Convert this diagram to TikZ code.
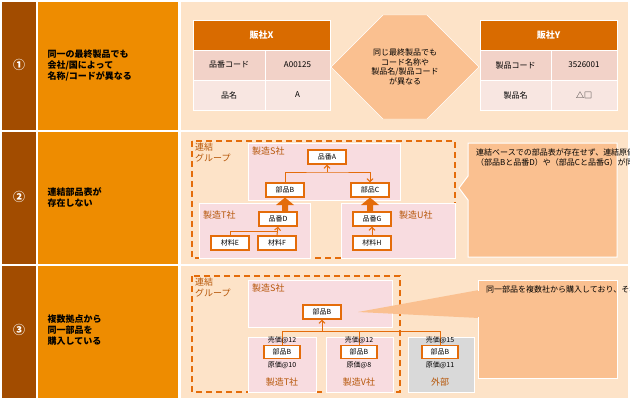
\documentclass[tikz,border=0pt]{standalone}
\usepackage{fontspec}
\setmainfont{Noto Sans CJK JP}
\usetikzlibrary{arrows.meta,shapes.arrows}
\definecolor{dk}{HTML}{A24C00}
\definecolor{mid}{HTML}{EE8C00}
\definecolor{pe}{HTML}{FDE3C8}
\definecolor{hd}{HTML}{D96B00}
\definecolor{r1}{HTML}{F2D2C8}
\definecolor{r2}{HTML}{F8E6E1}
\definecolor{ar}{HTML}{FAC090}
\definecolor{pk}{HTML}{F8DCE0}
\definecolor{or}{HTML}{E46C0A}
\definecolor{gr}{HTML}{D9D9D9}
\tikzset{
 numcell/.style={text=white,font=\bfseries\large},
 titcell/.style={font=\bfseries\small,align=left,anchor=west},
 hdcell/.style={fill=hd,draw=white,text=white,font=\bfseries\small,minimum height=30pt,inner sep=0pt},
 cellA/.style={fill=r1,draw=white,font=\footnotesize,minimum height=30pt,inner sep=0pt},
 cellB/.style={fill=r2,draw=white,font=\footnotesize,minimum height=30pt,inner sep=0pt},
 pbox/.style={fill=pk,draw=white,line width=1pt},
 item/.style={draw=or,line width=1.3pt,fill=white,font=\scriptsize,minimum width=38pt,minimum height=14pt,inner sep=1pt},
 lab/.style={text=or!80!black,font=\small,anchor=north west,inner sep=1pt,align=left},
 dgrp/.style={draw=or,line width=1.3pt,dash pattern=on 6pt off 4pt},
 call/.style={fill=ar,draw=white,line width=1pt},
 ctext/.style={font=\footnotesize,align=left,anchor=north west,text width=140pt,inner sep=0pt},
 conn/.style={draw=or,line width=1pt},
 small/.style={font=\scriptsize,inner sep=0pt}
}
\begin{document}
\begin{tikzpicture}[x=1pt,y=-1pt]
\useasboundingbox (0,0) rectangle (630,400);
% left column
\foreach \a/\b in {2/130,132/264,266/398}{
 \fill[dk] (2,\a) rectangle (36,\b);
 \fill[mid] (38,\a) rectangle (178,\b);
 \fill[pe] (181,\a) rectangle (628,\b);
}
\node[numcell] (n1) at (19,65) {①};
\node[numcell] (n2) at (19,197) {②};
\node[numcell] (n3) at (19,330) {③};
\node[titcell] (t1) at (44,65) {同一の最終製品でも\\会社/国によって\\名称/コードが異なる};
\node[titcell] (t2) at (44,197) {連結部品表が\\存在しない};
\node[titcell] (t3) at (44,330) {複数拠点から\\同一部品を\\購入している};
% row 1
\node[hdcell,minimum width=137pt] (hx) at (261.5,35) {販社X};
\node[cellA,minimum width=72pt] (x11) at (229,65) {品番コード};
\node[cellA,minimum width=65pt] (x12) at (297.5,65) {A00125};
\node[cellB,minimum width=72pt] (x21) at (229,95) {品名};
\node[cellB,minimum width=65pt] (x22) at (297.5,95) {A};
\node[hdcell,minimum width=137pt] (hy) at (548.5,35) {販社Y};
\node[cellA,minimum width=71pt] (y11) at (515.5,65) {製品コード};
\node[cellA,minimum width=66pt] (y12) at (584,65) {3526001};
\node[cellB,minimum width=71pt] (y21) at (515.5,95) {製品名};
\node[cellB,minimum width=66pt] (y22) at (584,95) {△□};
\node[double arrow,fill=ar,draw=white,minimum width=104pt,minimum height=148pt,double arrow head extend=0pt,double arrow head indent=0pt,inner sep=0pt] (da) at (405,67) {};
\node[font=\footnotesize,align=center,text width=100pt] (dat) at (405,67) {同じ最終製品でも\\コード名称や\\製品名/製品コード\\が異なる};
% row 2
\draw[dgrp] (192,141) rectangle (455,258);
\node[lab] (g2) at (194,142) {連結\\グループ};
\draw[pbox] (248,143) rectangle (400,200);
\draw[pbox] (199,203) rectangle (310,258);
\draw[pbox] (341,203) rectangle (455,258);
\node[lab] (ls) at (251,146) {製造S社};
\node[lab] (lt) at (202,210) {製造T社};
\node[lab] (lu) at (398,210) {製造U社};
\node[item] (pA) at (327,157) {品番A};
\node[item] (pB) at (285,190) {部品B};
\node[item] (pC) at (370,190) {部品C};
\node[item] (pD) at (278,219) {品番D};
\node[item] (mE) at (230,243) {材料E};
\node[item] (mF) at (277,243) {材料F};
\node[item] (pG) at (372,219) {品番G};
\node[item] (mH) at (372,243) {材料H};
\draw[conn,-{Straight Barb[length=3pt]}] (pB.north) |- (327,172) -| (pC.north);
\draw[conn,-{Straight Barb[length=3pt]}] (327,172) -- (pA.south);
\draw[conn] (mE.north) |- (277,231);
\draw[conn,-{Straight Barb[length=3pt]}] (mF.north) -- (pD.south);
\draw[conn,-{Straight Barb[length=3pt]}] (mH.north) -- (pG.south);
\fill[or] (282,211.5) -- (282,205) -- (276,205) -- (285,197.5) -- (294,205) -- (288,205) -- (288,211.5) -- cycle;
\fill[or] (367,211.5) -- (367,205) -- (361,205) -- (370,197.5) -- (379,205) -- (373,205) -- (373,211.5) -- cycle;
\draw[call] (468,143) -- (617,143) -- (617,257) -- (468,257) -- (468,200) -- (459,188) -- (468,176) -- cycle;
\node[ctext] (c2) at (476,149) {連結ベースでの部品表が存在せず、連結原価を集計できない\\（部品Bと品番D）や（部品Cと品番G）が同一部品であることを紐付ける必要がある};
% row 3
\draw[dgrp] (192,276) rectangle (400,392);
\node[lab] (g3) at (194,277) {連結\\グループ};
\draw[pbox] (248,280) rectangle (392,327);
\draw[pbox] (248,337) rectangle (316,392);
\draw[pbox] (326,337) rectangle (393,392);
\draw[fill=gr,draw=white,line width=1pt] (408,337) rectangle (474,392);
\node[lab] (ls3) at (251,283) {製造S社};
\node[item] (qS) at (322,312) {部品B};
\node[item,minimum width=36pt,minimum height=13pt] (qT) at (282,352) {部品B};
\node[item,minimum width=36pt,minimum height=13pt] (qV) at (359,352) {部品B};
\node[item,minimum width=36pt,minimum height=13pt] (qX) at (440,352) {部品B};
\draw[conn] (qT.north) |- (440,331) -- (qX.north);
\draw[conn] (qV.north) -- (359,331);
\draw[conn,-{Straight Barb[length=3pt]}] (322,331) -- (qS.south);
\node[small] (sT) at (282,340) {売価@12};
\node[small] (sV) at (359,340) {売価@12};
\node[small] (sX) at (440,340) {売価@15};
\node[small] (cT) at (282,365) {原価@10};
\node[small] (cV) at (359,365) {原価@8};
\node[small] (cX) at (440,365) {原価@11};
\node[text=or!80!black,font=\small] (nT) at (282,382) {製造T社};
\node[text=or!80!black,font=\small] (nV) at (359,382) {製造V社};
\node[text=or!80!black,font=\small] (nX) at (440,382) {外部};
\fill[ar] (358,312) -- (479,290) -- (479,318) -- cycle;
\draw[call] (478,280) rectangle (617,378);
\fill[ar] (476,291) rectangle (481,317);
\node[ctext,text width=132pt] (c3) at (486,286) {同一部品を複数社から購入しており、それぞれ単価が異なるため連結原価を把握するためには、一定のルールを設ける必要がある};
\end{tikzpicture}
\end{document}
